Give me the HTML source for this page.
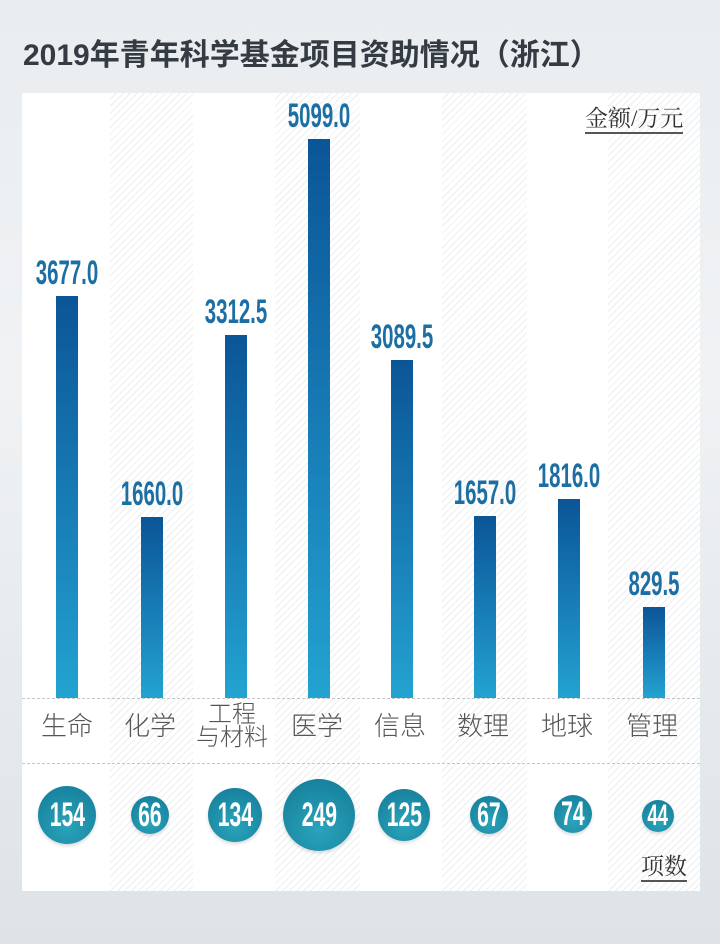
<!DOCTYPE html>
<html><head><meta charset="utf-8">
<style>
body{margin:0;width:720px;height:944px;overflow:hidden;background:linear-gradient(180deg,#e9edf0 0%,#f0f2f4 40%,#dde3e7 100%);font-family:"Liberation Sans","Noto Sans CJK SC",sans-serif;position:relative}
.title{position:absolute;left:23px;top:30px;font-size:30px;font-weight:bold;color:#353b42;letter-spacing:0px;white-space:nowrap}
.panel{position:absolute;left:22px;top:93px;width:678px;height:798px;background:#fff}
.stripe{position:absolute;top:0;height:798px;background:repeating-linear-gradient(135deg,#fff 0 4px,#eceeef 4px 5px)}
.bar{position:absolute;width:22px;background:linear-gradient(180deg,#0b5597 0%,#1c8ac0 70%,#23a3d0 100%)}
.val{position:absolute;width:120px;text-align:center;font-size:34px;font-weight:bold;color:#1d6ea3;transform:scaleX(0.6);transform-origin:center;line-height:34px}
.dash{position:absolute;left:0;width:678px;border-top:1.5px dashed #c3c7ca}
.cat{position:absolute;width:84px;text-align:center;font-size:26px;color:#555;line-height:26px;font-weight:300}
.circ{position:absolute;border-radius:50%;background:radial-gradient(circle at 50% 70%,#2aa3bb,#137a96);color:#fff;font-weight:bold;display:flex;align-items:center;justify-content:center;box-shadow:0 2px 3px rgba(0,0,0,.15)}
.circ span{display:inline-block;transform:scaleX(0.62);font-size:34px}
.unit{position:absolute;font-family:"Liberation Serif","Noto Serif CJK SC",serif;font-size:23px;color:#333;border-bottom:2px solid #555;line-height:27px}
</style></head><body>
<div class="title">2019年青年科学基金项目资助情况（浙江）</div>
<div class="panel">
<div class="stripe" style="left:88px;width:83px"></div>
<div class="stripe" style="left:253px;width:85px"></div>
<div class="stripe" style="left:420px;width:85px"></div>
<div class="stripe" style="left:586px;width:92px"></div>

<div class="dash" style="top:605px"></div>
<div class="dash" style="top:670px"></div>

<div class="bar" style="left:34px;top:203px;height:402px"></div>
<div class="bar" style="left:119px;top:424px;height:181px"></div>
<div class="bar" style="left:203px;top:242px;height:363px"></div>
<div class="bar" style="left:286px;top:46px;height:559px"></div>
<div class="bar" style="left:369px;top:267px;height:338px"></div>
<div class="bar" style="left:452px;top:423px;height:182px"></div>
<div class="bar" style="left:536px;top:406px;height:199px"></div>
<div class="bar" style="left:621px;top:514px;height:91px"></div>

<div class="val" style="left:-15px;top:163px">3677.0</div>
<div class="val" style="left:70px;top:384px">1660.0</div>
<div class="val" style="left:154px;top:202px">3312.5</div>
<div class="val" style="left:237px;top:6px">5099.0</div>
<div class="val" style="left:320px;top:227px">3089.5</div>
<div class="val" style="left:403px;top:383px">1657.0</div>
<div class="val" style="left:487px;top:366px">1816.0</div>
<div class="val" style="left:572px;top:474px">829.5</div>

<div class="cat" style="left:3px;top:620px">生命</div>
<div class="cat" style="left:86px;top:620px">化学</div>
<div class="cat" style="left:168px;top:610px;line-height:23px;font-size:24px">工程<br>与材料</div>
<div class="cat" style="left:253px;top:620px">医学</div>
<div class="cat" style="left:336px;top:620px">信息</div>
<div class="cat" style="left:419px;top:620px">数理</div>
<div class="cat" style="left:503px;top:620px">地球</div>
<div class="cat" style="left:588px;top:620px">管理</div>

<div class="circ" style="left:16px;top:693px;width:58px;height:58px"><span>154</span></div>
<div class="circ" style="left:109px;top:703px;width:38px;height:38px"><span>66</span></div>
<div class="circ" style="left:186px;top:695px;width:54px;height:54px"><span>134</span></div>
<div class="circ" style="left:261px;top:686px;width:72px;height:72px"><span>249</span></div>
<div class="circ" style="left:356px;top:696px;width:52px;height:52px"><span>125</span></div>
<div class="circ" style="left:448px;top:703px;width:38px;height:38px"><span>67</span></div>
<div class="circ" style="left:532px;top:702px;width:38px;height:38px"><span>74</span></div>
<div class="circ" style="left:620px;top:707px;width:32px;height:32px"><span style="font-size:30px">44</span></div>

<div class="unit" style="left:563px;top:12px">金额/万元</div>
<div class="unit" style="left:619px;top:760px">项数</div>
</div>
</body></html>
